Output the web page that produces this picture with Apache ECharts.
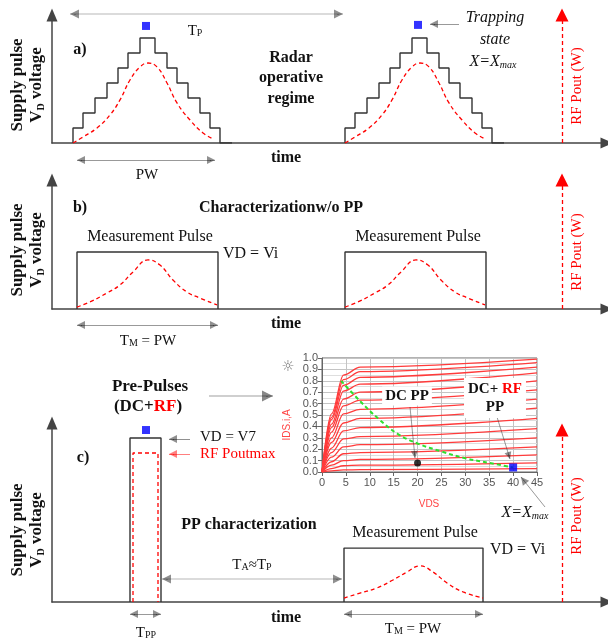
<!DOCTYPE html>
<html>
<head>
<meta charset="utf-8">
<script src="https://cdn.jsdelivr.net/npm/echarts@6/dist/echarts.min.js"></script>
<style>
  html, body { margin: 0; padding: 0; background: #fff; }
  #chart { width: 608px; height: 641px; }
</style>
</head>
<body>
<div id="chart"></div>
<script>
// ---- data (time in arbitrary units, voltage in step levels) ----
const stairLevels = [1, 2, 3, 4, 5, 6, 7, 6, 5, 4, 3, 2, 1, 0];
const stairEdgesA1 = [4.2, 6.2, 8.6, 11, 13.2, 15.2, 17.6, 20.6, 23, 25, 27.2, 29.6, 31.6, 33.6];
const stairEndA1 = 36;
const stairEdgesA2 = [58.6, 60.6, 63, 65.4, 67.6, 69.6, 72, 75, 77.4, 79.4, 81.6, 84, 86, 88];
const stairEndA2 = 90.4;

const bellA1 = [[4.2,0],[6.2,0.4],[9,1],[11.6,1.87],[13.6,2.87],[15.6,4.2],[17.6,5.07],[19.2,5.33],[21,5.07],[23,4],[25,2.67],[27.6,1.53],[30.2,0.67],[32.2,0.27]];
const bellA2 = [[58.6,0],[60.6,0.4],[63.4,1],[66,1.87],[68,2.87],[70,4.2],[72,5.07],[73.6,5.33],[75.4,5.07],[77.4,4],[79.4,2.67],[82,1.53],[84.6,0.67],[86.6,0.27]];
const trapA = [[18.8, 7.8], [73.2, 7.87]];

// [start, end, level]
const pulseB1 = [5, 33.2, 3.8];
const pulseB2 = [58.6, 86.8, 3.8];
const bellB1 = [[5,0.13],[7.6,0.47],[11,1.07],[13.6,1.6],[16.2,2.47],[19.2,3.27],[21.6,2.93],[24.2,1.93],[27,1.13],[29.6,0.73],[33,0.27]];
const bellB2 = [[58.6,0.13],[61.2,0.47],[64.6,1.07],[67.2,1.6],[69.8,2.47],[72.8,3.27],[75.2,2.93],[77.8,1.93],[80.6,1.13],[83.2,0.73],[86.6,0.27]];

const prePulseC = [15.6, 21.8, 7];
const prePulseRfC = [16.2, 21.2, 6.36];
const pulseC = [58.4, 86.2, 2.3];
const bellC = [[58.4,0.17],[61.6,0.38],[65,0.6],[68.2,0.94],[71,1.28],[73.6,1.54],[76.2,1.28],[79,0.81],[82.2,0.43],[86.2,0.17]];
const trapC = [[18.8, 7.34]];

const rfAxisT = 102;
const rfAxisTop = [8.53, 8.6, 7.34];

// inset I-V family
const ivV = [0, 2, 4.5, 8, 45];
const ivI = [
  [0, .51, .85, .92, .99],
  [0, .48, .81, .88, .96],
  [0, .46, .76, .83, .92],
  [0, .42, .71, .77, .87],
  [0, .39, .64, .70, .80],
  [0, .35, .58, .63, .72],
  [0, .30, .51, .55, .64],
  [0, .26, .43, .47, .56],
  [0, .21, .36, .39, .47],
  [0, .17, .29, .31, .38],
  [0, .13, .22, .24, .30],
  [0, .09, .16, .17, .22],
  [0, .06, .10, .11, .15],
  [0, .03, .055, .06, .08],
  [0, .01, .018, .02, .03]
];
const loadV = [4, 8, 12, 16, 20, 25, 30, 35, 40];
const loadI = [0.8, 0.62, 0.46, 0.33, 0.25, 0.18, 0.12, 0.08, 0.04];
const dcPoint = [20, 0.08];
const rfPoint = [40, 0.04];

// annotation arrows (page units): x1, y1, x2, y2, heads, line colour, head colour, width, head size
const arrowSpecs = [
  [70, 14, 343, 14, 'both', '#a0a0a0', '#222', 1.5, 9],
  [77, 160, 215, 160, 'both', '#333', '#222', 1, 8],
  [459, 24, 430, 24, 'end', '#333', '#222', 1, 8],
  [77, 325, 218, 325, 'both', '#333', '#222', 1, 8],
  [209, 396, 273, 396, 'end', '#a0a0a0', '#111', 2, 11],
  [190, 439, 169, 439, 'end', '#222', '#222', 1, 8],
  [190, 454, 169, 454, 'end', '#ff0000', '#ff0000', 1, 8],
  [162, 579, 342, 579, 'both', '#a0a0a0', '#222', 1.5, 9],
  [130, 614, 161, 614, 'both', '#333', '#222', 1, 8],
  [344, 614, 483, 614, 'both', '#333', '#222', 1, 8],
  [545, 507, 521, 477, 'end', '#333', '#222', 1, 8],
  [410, 407, 415, 458, 'end', '#333', '#222', 1, 7],
  [497, 417, 510, 459, 'end', '#333', '#222', 1, 7]
];

// ---- helpers ----
const serif = '"Liberation Serif", "DejaVu Serif", serif';
const sans = '"Liberation Sans", Arial, sans-serif';

function stairPath(edges, levels, end) {
  const pts = [];
  let prev = 0;
  edges.forEach((t, i) => {
    pts.push([t, prev]);
    pts.push([t, levels[i]]);
    prev = levels[i];
  });
  pts.push([end, 0]);
  return pts;
}
function rectPath(p) {
  return [[p[0], 0], [p[0], p[2]], [p[1], p[2]], [p[1], 0]];
}

const black = '#333';
const red = '#ff0000';

function lineS(grid, data, color, dashed, extra) {
  return Object.assign({
    type: 'line', xAxisIndex: grid, yAxisIndex: grid, data: data,
    showSymbol: false, symbol: 'none', silent: true,
    lineStyle: { color: color, width: dashed ? 1.3 : 1.4, type: dashed ? [4, 3] : 'solid' }
  }, extra || {});
}
function bellS(grid, data) {
  return lineS(grid, data, red, true, { smooth: 0.45 });
}
function squareS(grid, data, size) {
  return {
    type: 'scatter', xAxisIndex: grid, yAxisIndex: grid, data: data, silent: true,
    symbol: 'rect', symbolSize: size || 8, itemStyle: { color: '#0000ff' }, z: 5
  };
}
function rfArrowS(grid, top) {
  return {
    type: 'lines', coordinateSystem: 'cartesian2d', xAxisIndex: grid, yAxisIndex: grid,
    silent: true, clip: false,
    symbol: ['none', 'triangle'], symbolSize: [11, 13],
    lineStyle: { color: red, width: 1.3, type: [4, 3], opacity: 1 },
    data: [{ coords: [[rfAxisT, 0], [rfAxisT, top]] }]
  };
}

// arrows: line body + short head segments
const arrowBodies = [];
const arrowHeads = [];
arrowSpecs.forEach(a => {
  const [x1, y1, x2, y2, heads, lc, hc, w, hs] = a;
  arrowBodies.push({ coords: [[x1, y1], [x2, y2]], lineStyle: { color: lc, width: w } });
  const len = Math.hypot(x2 - x1, y2 - y1);
  const ux = (x2 - x1) / len, uy = (y2 - y1) / len;
  const back = hs * 0.5;
  arrowHeads.push({ coords: [[x2 - ux * back - ux, y2 - uy * back - uy], [x2 - ux * back, y2 - uy * back]],
    lineStyle: { color: hc, width: 1 }, symbolSize: hs });
  if (heads === 'both') {
    arrowHeads.push({ coords: [[x1 + ux * back + ux, y1 + uy * back + uy], [x1 + ux * back, y1 + uy * back]],
      lineStyle: { color: hc, width: 1 }, symbolSize: hs });
  }
});

// ---- layout ----
const panelBoxes = [
  { top: 15, height: 128, max: 8.53 },
  { top: 180, height: 129, max: 8.6 },
  { top: 423, height: 179, max: 7.64 }
];
const grids = panelBoxes.map(b => ({ left: 52, top: b.top, width: 555, height: b.height }));
grids.push({ left: 0, top: 0, width: 608, height: 641 });          // page overlay
grids.push({ left: 322, top: 358, width: 215, height: 114, show: true, borderColor: '#666', borderWidth: 1, backgroundColor: '#fff' }); // inset

const axisStyle = { color: '#444', width: 1.5 };
const xAxes = panelBoxes.map((b, i) => ({
  type: 'value', gridIndex: i, min: 0, max: 111,
  axisLine: { show: true, onZero: false, symbol: ['none', 'triangle'], symbolSize: [11, 13], lineStyle: axisStyle },
  axisTick: { show: false }, axisLabel: { show: false }, splitLine: { show: false }
}));
const yAxes = panelBoxes.map((b, i) => ({
  type: 'value', gridIndex: i, min: 0, max: b.max,
  axisLine: { show: true, onZero: false, symbol: ['none', 'triangle'], symbolSize: [11, 13], lineStyle: axisStyle },
  axisTick: { show: false }, axisLabel: { show: false }, splitLine: { show: false }
}));
xAxes.push({ type: 'value', gridIndex: 3, min: 0, max: 608, show: false });
yAxes.push({ type: 'value', gridIndex: 3, min: 0, max: 641, inverse: true, show: false });
xAxes.push({
  type: 'value', gridIndex: 4, min: 0, max: 45, interval: 5,
  axisLine: { show: true, onZero: false, lineStyle: { color: '#666' } },
  axisTick: { show: true, length: 4, lineStyle: { color: '#666' } },
  axisLabel: { color: '#555', fontSize: 11, fontFamily: sans, margin: 5 },
  splitLine: { show: true, lineStyle: { color: '#c4c4c4' } }
});
yAxes.push({
  type: 'value', gridIndex: 4, min: 0, max: 1, interval: 0.1,
  axisLine: { show: true, onZero: false, lineStyle: { color: '#666' } },
  axisTick: { show: true, length: 4, lineStyle: { color: '#666' } },
  axisLabel: { color: '#555', fontSize: 11, fontFamily: sans, margin: 4, formatter: v => v.toFixed(1) },
  minorTick: { show: false, splitNumber: 2 },
  minorSplitLine: { show: true, lineStyle: { color: '#dedede' } },
  splitLine: { show: true, lineStyle: { color: '#c4c4c4' } }
});

// ---- series ----
const series = [
  lineS(0, stairPath(stairEdgesA1, stairLevels, stairEndA1), black, false),
  lineS(0, stairPath(stairEdgesA2, stairLevels, stairEndA2), black, false),
  bellS(0, bellA1), bellS(0, bellA2),
  squareS(0, trapA),
  rfArrowS(0, rfAxisTop[0]),

  lineS(1, rectPath(pulseB1), black, false),
  lineS(1, rectPath(pulseB2), black, false),
  bellS(1, bellB1), bellS(1, bellB2),
  rfArrowS(1, rfAxisTop[1]),

  lineS(2, rectPath(prePulseC), black, false),
  lineS(2, rectPath(prePulseRfC), red, true),
  lineS(2, rectPath(pulseC), black, false),
  bellS(2, bellC),
  squareS(2, trapC),
  rfArrowS(2, rfAxisTop[2]),

  {
    type: 'lines', coordinateSystem: 'cartesian2d', xAxisIndex: 3, yAxisIndex: 3, silent: true,
    symbol: 'none', data: arrowBodies, z: 20
  },
  {
    type: 'lines', coordinateSystem: 'cartesian2d', xAxisIndex: 3, yAxisIndex: 3, silent: true,
    symbol: ['none', 'triangle'], data: arrowHeads, z: 21
  }
];
ivI.forEach(row => {
  series.push({
    type: 'line', xAxisIndex: 4, yAxisIndex: 4, silent: true, showSymbol: false, symbol: 'none',
    smooth: 0.35, smoothMonotone: 'x',
    data: row.map((c, j) => [ivV[j], c]),
    lineStyle: { color: '#ff3b3b', width: 1.3 }, z: 6
  });
});
series.push({
  type: 'line', xAxisIndex: 4, yAxisIndex: 4, silent: true, showSymbol: false, symbol: 'none',
  smooth: 0.4, data: loadV.map((v, j) => [v, loadI[j]]),
  lineStyle: { color: '#2ee02e', width: 2, type: [4, 3] }, z: 7
});
series.push({
  type: 'scatter', xAxisIndex: 4, yAxisIndex: 4, silent: true, data: [dcPoint],
  symbol: 'circle', symbolSize: 7, itemStyle: { color: '#000' }, z: 8
});
series.push({
  type: 'scatter', xAxisIndex: 4, yAxisIndex: 4, silent: true, data: [rfPoint],
  symbol: 'rect', symbolSize: 8, itemStyle: { color: '#0000ff' }, z: 8
});

// ---- texts ----
function sub(size, o) {
  o = o || {};
  return { fontSize: size, fontFamily: o.family || serif, fontStyle: o.italic ? 'italic' : 'normal',
    fontWeight: o.bold ? 'bold' : 'normal', fill: o.color || '#111', verticalAlign: 'bottom', lineHeight: o.lh || 12 };
}
function txt(text, x, y, o) {
  o = o || {};
  return {
    type: 'text', x: x, y: y, rotation: o.rot || 0, z: 100, silent: true,
    style: {
      text: text, fill: o.color || '#111',
      fontFamily: o.family || serif, fontSize: o.size || 16,
      fontWeight: o.bold ? 'bold' : 'normal', fontStyle: o.italic ? 'italic' : 'normal',
      align: o.align || 'center', verticalAlign: 'middle',
      lineHeight: o.lh, rich: o.rich,
      backgroundColor: o.bg, padding: o.pad
    }
  };
}
const subRich = { s: sub(10) };
const yLabelRich = { s: sub(10, { bold: true }) };
function yLabel(yc) {
  return txt('Supply pulse\nV{s|D} voltage', 27, yc, { bold: true, size: 17, rot: Math.PI / 2, lh: 19, rich: yLabelRich });
}
function rfLabel(yc) {
  return txt('RF Pout (W)', 577, yc, { color: red, size: 15, rot: Math.PI / 2 });
}

const texts = [
  // panel a
  txt('T{s|P}', 195, 31, { size: 15, rich: subRich }),
  txt('a)', 80, 50, { bold: true }),
  txt('Radar\noperative\nregime', 291, 78, { bold: true, lh: 20.5 }),
  txt('Trapping\nstate', 495, 29, { italic: true, lh: 22 }),
  txt('X=X{m|max}', 493, 62, { italic: true, rich: { m: sub(10, { italic: true }) } }),
  rfLabel(86),
  yLabel(85),
  txt('time', 286, 158, { bold: true }),
  txt('PW', 147, 175, { size: 15 }),
  // panel b
  txt('b)', 80, 208, { bold: true }),
  txt('Characterizationw/o PP', 281, 208, { bold: true }),
  txt('Measurement Pulse', 150, 237),
  txt('Measurement Pulse', 418, 237),
  txt('VD = Vi', 223, 254, { align: 'left' }),
  rfLabel(252),
  yLabel(250),
  txt('time', 286, 324, { bold: true }),
  txt('T{s|M} = PW', 148, 341, { size: 15, rich: subRich }),
  // panel c
  txt('Pre-Pulses', 150, 387, { bold: true, size: 17 }),
  txt('(DC+{r|RF})', 148, 407, { bold: true, size: 17, rich: { r: { fontSize: 17, fontFamily: serif, fontWeight: 'bold', fill: red } } }),
  txt('VD = V7', 200, 437, { align: 'left', size: 15 }),
  txt('RF Poutmax', 200, 454, { align: 'left', size: 15, color: red }),
  txt('c)', 83, 458, { bold: true }),
  txt('PP characterization', 249, 525, { bold: true }),
  txt('T{s|A}\u2248T{s|P}', 252, 565, { size: 15, rich: subRich }),
  txt('Measurement Pulse', 415, 533),
  txt('VD = Vi', 490, 550, { align: 'left' }),
  txt('X=X{m|max}', 525, 513, { italic: true, rich: { m: sub(10, { italic: true }) } }),
  rfLabel(516),
  yLabel(530),
  txt('time', 286, 618, { bold: true }),
  txt('T{s|PP}', 146, 633, { size: 15, rich: subRich }),
  txt('T{s|M} = PW', 413, 629, { size: 15, rich: subRich }),
  // inset
  txt('DC PP', 407, 396, { bold: true, size: 15, bg: '#fff', pad: [2, 3] }),
  txt('DC+ {r|RF}\nPP', 495, 398, { bold: true, size: 15, lh: 18, bg: '#fff', pad: [2, 4],
    rich: { r: { fontSize: 15, fontFamily: serif, fontWeight: 'bold', fill: red, lineHeight: 18 } } }),
  txt('VDS', 429, 504, { family: sans, size: 10, color: '#ff4444' }),
  txt('IDS.i,A', 287, 425, { family: sans, size: 10, color: '#ff4444', rot: Math.PI / 2 }),
  txt('\u263C', 288, 367, { family: '"DejaVu Sans", sans-serif', size: 15, color: '#777' })
];

const chart = echarts.init(document.getElementById('chart'), null, { renderer: 'canvas' });
chart.setOption({
  animation: false,
  backgroundColor: '#fff',
  grid: grids,
  xAxis: xAxes,
  yAxis: yAxes,
  series: series,
  graphic: { elements: texts }
});
</script>
</body>
</html>
